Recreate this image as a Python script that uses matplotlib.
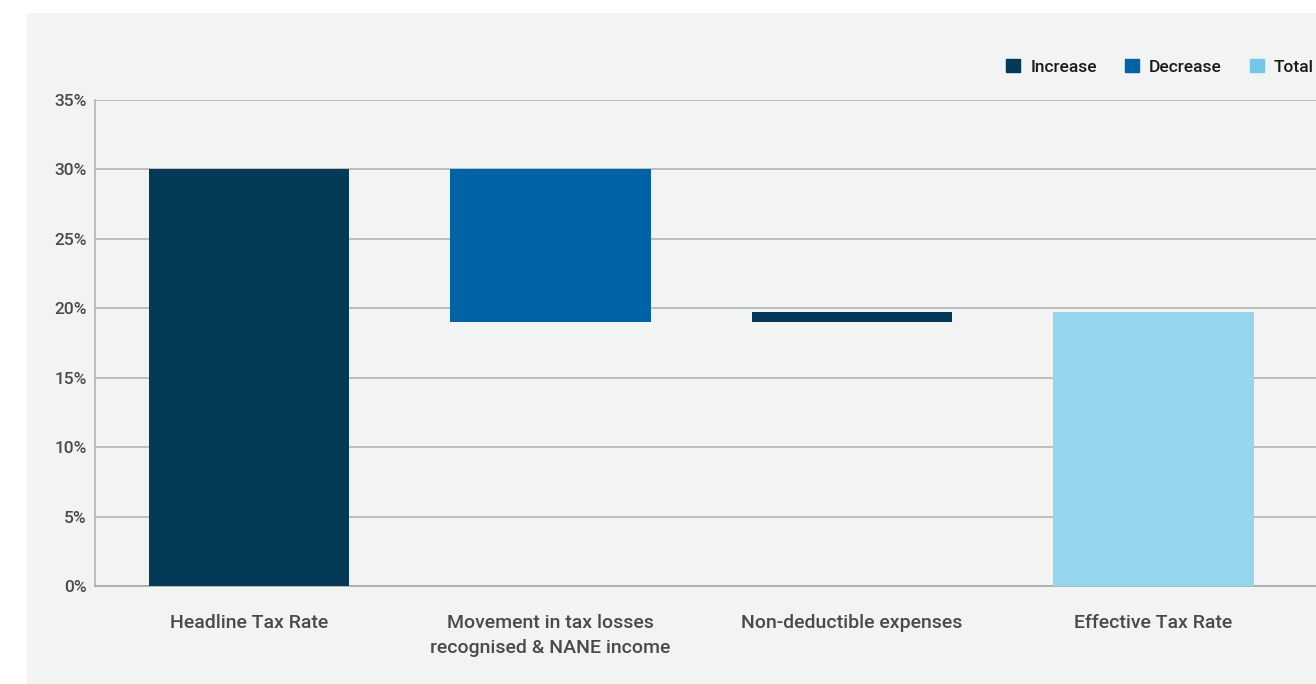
import matplotlib
matplotlib.use("Agg")
import matplotlib.pyplot as plt
from matplotlib.patches import Rectangle, Patch

# data (percent)
categories = ["Headline Tax Rate",
              "Movement in tax losses\nrecognised & NANE income",
              "Non-deductible expenses",
              "Effective Tax Rate"]
start_rate = 30.0
changes = [-11.0, 0.7]
yticks = [0, 5, 10, 15, 20, 25, 30, 35]

c_inc = "#043a57"
c_dec = "#0063a6"
c_tot = "#94d7ee"
c_tot_leg = "#74c6ea"
panel = "#f2f3f3"

plt.rcParams['font.family'] = ['Roboto', 'DejaVu Sans']

fig = plt.figure(figsize=(13.16, 6.84), dpi=100)
fig.patch.set_facecolor("white")
fig.patches.append(Rectangle((27/1316, 0), 1 - 27/1316, 1 - 13/684,
                             transform=fig.transFigure, facecolor=panel,
                             edgecolor="none", zorder=-10))

ax = fig.add_axes([95/1316, 1 - 586/684, 1 - 95/1316, (586 - 100)/684])
ax.set_facecolor(panel)

# waterfall bars
bottoms, heights, colors = [0], [start_rate], [c_inc]
level = start_rate
for ch in changes:
    if ch < 0:
        bottoms.append(level + ch); heights.append(-ch); colors.append(c_dec)
    else:
        bottoms.append(level); heights.append(ch); colors.append(c_inc)
    level += ch
bottoms.append(0); heights.append(level); colors.append(c_tot)

x = range(len(categories))
ax.bar(x, heights, bottom=bottoms, width=0.665, color=colors, zorder=3)

ax.set_ylim(0, 35)
ax.set_xlim(-0.511, 3.539)
ax.set_yticks(yticks)
ax.set_yticklabels([f"{t}%" for t in yticks], fontweight="medium")
ax.set_xticks(list(x))
ax.set_xticklabels(categories, linespacing=1.45, fontsize=14, fontweight="medium")
ax.grid(axis="y", color="#b4b4b4", linewidth=1.2, zorder=0)
ax.tick_params(axis="both", length=0, labelsize=12.5, colors="#4a4a4a")
ax.tick_params(axis="x", pad=20.5, labelsize=14)
ax.tick_params(axis="y", pad=6)
for s in ["top", "right"]:
    ax.spines[s].set_visible(False)
ax.spines["left"].set_color("#b4b4b4")
ax.spines["bottom"].set_color("#a8a8a8")
ax.spines["left"].set_linewidth(1.2)
ax.spines["bottom"].set_linewidth(1.2)

handles = [Patch(color=c_inc, label="Increase"),
           Patch(color=c_dec, label="Decrease"),
           Patch(color=c_tot_leg, label="Total")]
fig.legend(handles=handles, loc="upper left", ncol=3, frameon=False,
           bbox_to_anchor=(1006/1316, 1 - 59/684), borderaxespad=0, borderpad=0,
           handlelength=0.8, handleheight=0.8, handletextpad=0.6,
           columnspacing=1.6, prop={"size": 12.5, "weight": "medium"},
           labelcolor="#1a1a1a")

fig.savefig("out.png", dpi=100, facecolor=fig.get_facecolor())
